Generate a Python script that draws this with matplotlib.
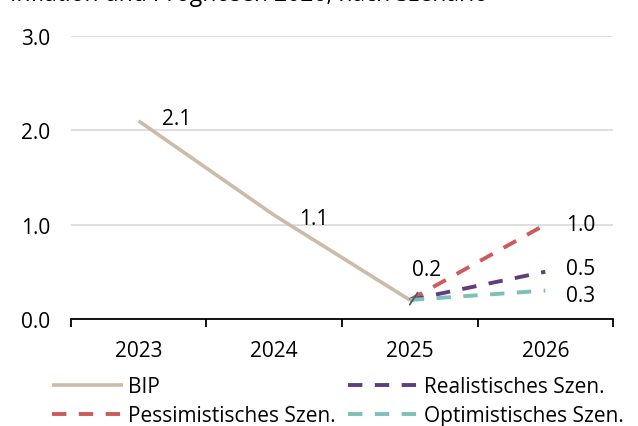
import matplotlib.pyplot as plt

plt.rcParams['font.family'] = ['Open Sans', 'DejaVu Sans']

years = ['2023', '2024', '2025', '2026']
bip = [2.1, 1.1, 0.2]
pessimistisch = [0.2, 1.0]
realistisch = [0.2, 0.5]
optimistisch = [0.2, 0.3]
title = 'Inflation und Prognosen 2026, nach Szenario'

c_bip = '#cbbba8'
c_pess = '#cc5b5b'
c_real = '#5f3d7f'
c_opt = '#7cc0b8'

fig = plt.figure(figsize=(6.38, 4.27), dpi=100)
ax = fig.add_axes([0.111, 0.251, 0.850, 0.662])

x_bip = [0, 1, 2]
x_scen = [2, 3]
dash = (0, (3.7, 3.2))
ax.plot(x_bip, bip, color=c_bip, lw=2.6, label='BIP', solid_capstyle='butt')
ax.plot(x_scen, pessimistisch, color=c_pess, lw=2.8, ls=dash, label='Pessimistisches Szen.')
ax.plot(x_scen, realistisch, color=c_real, lw=2.8, ls=dash, label='Realistisches Szen.')
ax.plot(x_scen, optimistisch, color=c_opt, lw=2.8, ls=dash, label='Optimistisches Szen.')

fs = 15
ax.text(0.17, bip[0] - 0.09, f'{bip[0]:.1f}', fontsize=fs, va='bottom', ha='left')
ax.text(1.18, bip[1] - 0.04, f'{bip[1]:.1f}', fontsize=fs, va='center', ha='left')
ax.annotate(f'{bip[2]:.1f}', xy=(2.0, bip[2] - 0.05), xytext=(2.02, 0.52),
            fontsize=fs, va='center', ha='left',
            arrowprops=dict(arrowstyle='-', color='#555555', lw=1.2,
                            shrinkA=8, shrinkB=0, relpos=(0.45, 0)))
ax.text(3.15, pessimistisch[1], f'{pessimistisch[1]:.1f}', fontsize=fs, va='center', ha='left')
ax.text(3.15, realistisch[1] + 0.03, f'{realistisch[1]:.1f}', fontsize=fs, va='center', ha='left')
ax.text(3.15, optimistisch[1] - 0.05, f'{optimistisch[1]:.1f}', fontsize=fs, va='center', ha='left')

ax.set_xlim(-0.5, 3.5)
ax.set_ylim(0, 3.0)
ax.set_yticks([0, 1, 2, 3])
ax.set_yticklabels([f'{v:.1f}' for v in [0, 1, 2, 3]], fontsize=fs)
ax.yaxis.grid(True, color='#d9d9d9', lw=1.2)
ax.set_axisbelow(True)
ax.tick_params(axis='y', length=0, pad=15)

ax.set_xticks([-0.5, 0.5, 1.5, 2.5, 3.5])
ax.set_xticklabels([])
ax.set_xticks([0, 1, 2, 3], minor=True)
ax.set_xticklabels(years, minor=True, fontsize=fs)
ax.tick_params(axis='x', which='major', length=6, width=1.3, direction='out')
ax.tick_params(axis='x', which='minor', length=0, pad=15)

for side in ('left', 'right', 'top'):
    ax.spines[side].set_visible(False)
ax.spines['bottom'].set_linewidth(1.3)

handles, labels = ax.get_legend_handles_labels()
fig.legend(handles, labels,
           loc='lower left', bbox_to_anchor=(0.069, -0.02), ncol=2, frameon=False,
           fontsize=fs, handlelength=3.37, handletextpad=0.25, columnspacing=0.62,
           labelspacing=0.4, borderaxespad=0)

fig.text(0.015, 1 - 1 / 427, title, fontsize=16.5, va='baseline', ha='left')

fig.savefig('out.png', dpi=100)
